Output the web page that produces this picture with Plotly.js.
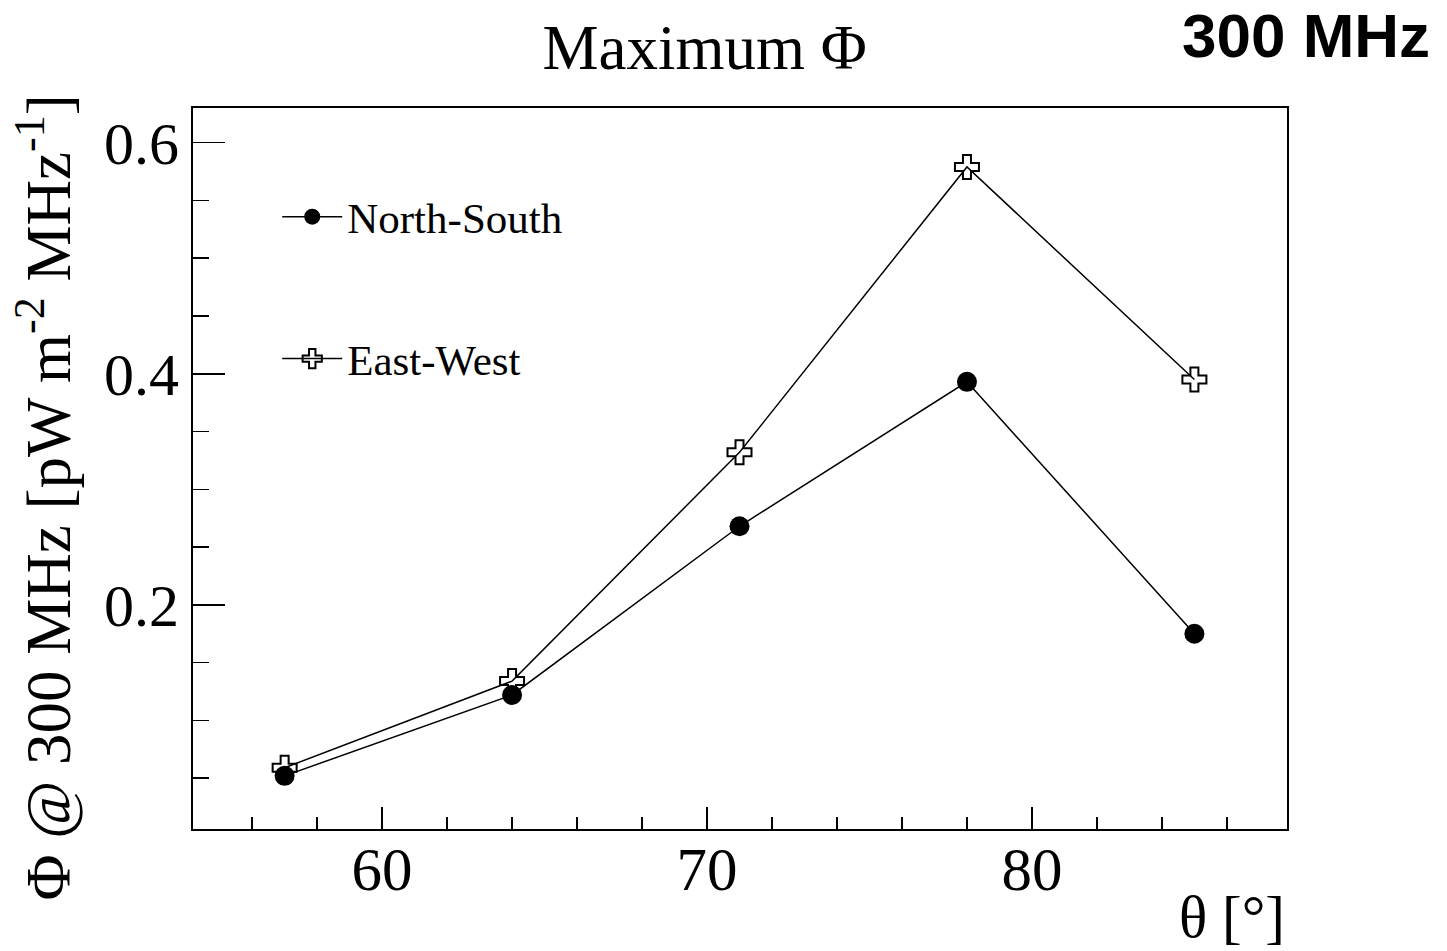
<!DOCTYPE html>
<html>
<head>
<meta charset="utf-8">
<script src="https://cdn.plot.ly/plotly-3.0.1.min.js"></script>
<style>html,body{margin:0;padding:0;background:#fff;}#chart{width:1447px;height:951px;}</style>
</head>
<body>
<div id="chart"></div>
<script>
const theta = [57, 64, 71, 78, 85];
const northSouth = [0.052, 0.122, 0.268, 0.393, 0.175];
const eastWest = [0.059, 0.134, 0.332, 0.579, 0.395];
const seriesNames = ["North-South", "East-West"];
const xTickVals = [60, 70, 80];
const yTickVals = [0.2, 0.4, 0.6];
const yTickText = ["0.2", "0.4", "0.6"];

const serif = "Liberation Serif, Times New Roman, serif";

const traces = [
  {
    x: theta, y: northSouth, name: seriesNames[0], type: "scatter", mode: "lines+markers",
    legendgroup: "a",
    line: {color: "#000", width: 1.5},
    marker: {symbol: "circle", size: 20, color: "#000"}
  },
  {
    x: theta, y: eastWest, name: seriesNames[1], type: "scatter", mode: "lines+markers",
    legendgroup: "b",
    line: {color: "#000", width: 1.5},
    marker: {symbol: "cross-open", size: 20, color: "#000", line: {width: 2, color: "#000"}}
  }
];

const layout = {
  width: 1447, height: 951,
  paper_bgcolor: "#fff", plot_bgcolor: "#fff",
  margin: {l: 193, r: 160, t: 108, b: 122},
  title: {text: "Maximum Φ", font: {family: serif, size: 63, color: "#000"}, x: 0.487, xanchor: "center", y: 0.951, yanchor: "middle"},
  showlegend: true,
  legend: {
    x: 0.077, y: 0.897, xanchor: "left", yanchor: "top",
    font: {family: serif, size: 43, color: "#000"},
    bgcolor: "rgba(0,0,0,0)", borderwidth: 0,
    traceorder: "grouped", tracegroupgap: 83,
    itemwidth: 60
  },
  xaxis: {
    range: [54.18, 87.85],
    tickvals: xTickVals,
    ticks: "inside", ticklen: 22, tickwidth: 1.5, tickcolor: "#000",
    minor: {dtick: 2, ticks: "inside", ticklen: 12, tickwidth: 1.5, tickcolor: "#000"},
    showgrid: false, zeroline: false,
    showline: true, linecolor: "#000", linewidth: 2, mirror: true,
    ticklabelstandoff: -14,
    tickfont: {family: serif, size: 61, color: "#000"}
  },
  yaxis: {
    range: [0.006, 0.630],
    tickvals: yTickVals, ticktext: yTickText,
    ticks: "inside", ticklen: 32, tickwidth: 1.5, tickcolor: "#000",
    minor: {dtick: 0.05, tick0: 0, ticks: "inside", ticklen: 16, tickwidth: 1.5, tickcolor: "#000"},
    showgrid: false, zeroline: false,
    showline: true, linecolor: "#000", linewidth: 2, mirror: true,
    tickfont: {family: serif, size: 60, color: "#000"}
  },
  annotations: [
    {text: "Φ @ 300 MHz [pW m<sup>-2</sup> MHz<sup>-1</sup>]", xref: "paper", yref: "paper",
     x: -0.136, y: 0.46, xanchor: "center", yanchor: "middle", textangle: -90,
     showarrow: false, font: {family: serif, size: 63, color: "#000"}},
    {text: "θ [°]", xref: "paper", yref: "paper", x: 1.0, y: -0.122, xanchor: "right", yanchor: "middle",
     showarrow: false, font: {family: serif, size: 59, color: "#000"}},
    {text: "<b>300 MHz</b>", xref: "paper", yref: "paper", x: 1.1325, y: 1.1, xanchor: "right", yanchor: "middle",
     showarrow: false, font: {family: "Liberation Sans, Arial, sans-serif", size: 62, color: "#000"}}
  ]
};

Plotly.newPlot("chart", traces, layout, {displayModeBar: false, staticPlot: true});
</script>
</body>
</html>
